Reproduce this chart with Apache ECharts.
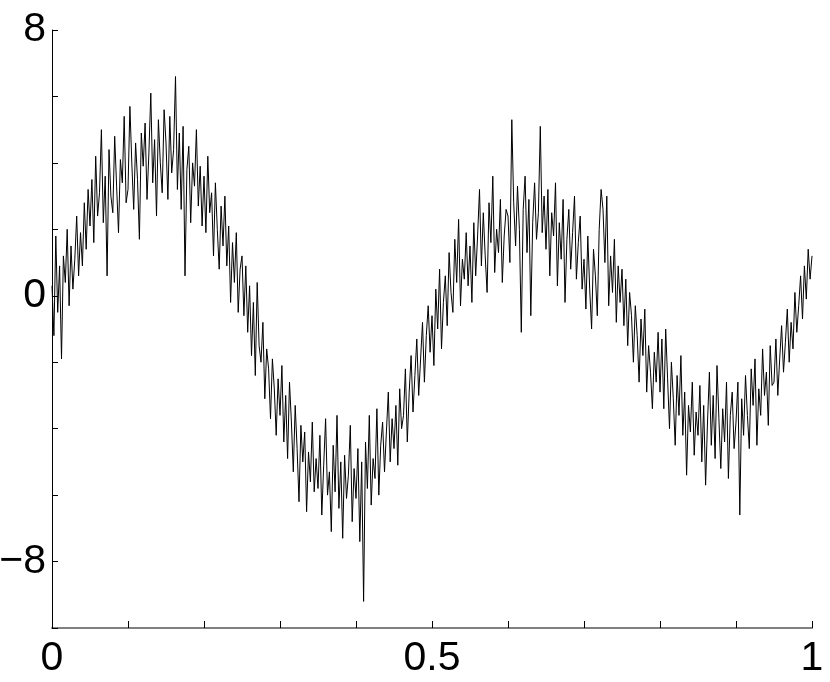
<!DOCTYPE html>
<html>
<head>
<meta charset="utf-8">
<script src="https://cdn.jsdelivr.net/npm/echarts@6/dist/echarts.min.js"></script>
<style>
  html, body { margin: 0; padding: 0; background: #fff; }
  #chart { width: 830px; height: 682px; }
</style>
</head>
<body>
<div id="chart"></div>
<script>
// valeurs, une ligne = 0.05 en x (pas de 0.0025)
const signal = [
  0.3, -1.2, 1.8, -0.5, 0.9, -1.9, 1.2, 0.4, 2.0, -0.3, 1.5, 0.2, 1.1, 2.4, 0.6, 1.9, 0.9, 2.8, 1.4, 3.2,
  2.1, 3.5, 1.6, 4.2, 2.4, 3.1, 5.0, 2.2, 3.6, 0.6, 4.4, 3.0, 2.5, 4.8, 3.3, 1.9, 4.1, 3.4, 5.4, 2.8,
  3.2, 5.7, 4.0, 2.6, 4.6, 3.5, 1.7, 4.9, 3.9, 5.2, 2.9, 4.3, 6.1, 3.4, 4.7, 2.4, 5.3, 4.0, 3.1, 5.6,
  4.6, 2.9, 5.4, 3.7, 4.4, 6.6, 3.2, 4.9, 2.6, 5.1, 0.6, 3.8, 4.5, 2.2, 4.0, 3.3, 5.0, 2.7, 3.9, 2.1,
  3.6, 1.9, 4.2, 2.5, 3.1, 1.2, 3.4, 2.0, 0.8, 2.7, 1.5, 3.0, 0.9, 2.1, -0.2, 1.6, 0.4, 1.9, -0.5, 0.8,
  1.2, -0.6, 0.9, -1.1, 0.3, -1.8, -0.2, -2.4, 0.4, -1.5, -2.0, -0.8, -3.1, -1.6, -2.2, -3.7, -1.9, -2.8, -4.2, -2.5,
  -3.6, -2.1, -4.4, -3.0, -4.9, -2.6, -3.8, -5.3, -3.3, -4.6, -6.2, -3.9, -5.0, -4.1, -6.5, -4.7, -5.6, -3.8, -5.9, -4.9,
  -5.8, -4.2, -6.6, -5.1, -3.7, -6.0, -5.3, -7.1, -4.5, -5.9, -3.6, -6.4, -5.0, -7.3, -4.8, -6.1, -5.4, -3.9, -6.8, -5.2,
  -6.1, -4.6, -7.4, -5.0, -9.2, -4.4, -5.8, -3.6, -6.3, -4.9, -5.5, -3.4, -6.0, -4.5, -3.8, -5.3, -4.1, -2.9, -5.0, -3.7,
  -4.6, -3.3, -5.1, -2.8, -4.0, -3.6, -2.2, -4.4, -2.9, -1.8, -3.5, -2.4, -1.3, -3.0, -1.9, -0.8, -2.6, -1.2, -0.3, -1.7,
  -0.6, -2.1, 0.2, -1.0, 0.8, -1.6, -0.2, 0.6, -0.9, 1.3, 0.1, -0.5, 1.7, 0.4, 2.3, -0.3, 1.1, 0.5, 1.9, 0.3,
  1.5, -0.2, 2.2, 0.6, 1.8, 3.2, 0.9, 2.5, 1.2, 0.1, 2.8, 1.6, 3.6, 0.7, 2.0, 1.3, 2.9, 0.4, 1.8, 2.6,
  2.4, 1.0, 5.3, 2.8, 1.5, 3.3, 2.0, -1.1, 2.6, 3.6, 1.3, 2.9, -0.6, 2.2, 3.4, 1.7, 2.5, 5.1, 1.9, 3.0,
  1.4, 3.2, 0.6, 2.5, 1.8, 3.4, 0.3, 2.2, 1.1, 2.9, -0.2, 1.7, 2.6, 0.8, 1.9, 3.0, 0.5, 1.6, 2.4, 0.2,
  1.1, -0.4, 1.8, 0.2, -1.0, 1.4, 0.6, -0.6, 2.0, 3.2, 2.6, 1.0, 3.0, -0.3, 1.2, 0.1, 1.7, -0.8, 0.9, -0.2,
  0.8, -0.9, 0.5, -1.5, 0.1, -0.6, -2.0, -0.3, -1.2, -2.6, -0.7, -1.8, -0.4, -2.9, -1.5, -2.3, -3.4, -1.7, -2.6, -1.1,
  -2.9, -1.3, -3.4, -1.0, -2.5, -4.0, -2.0, -3.1, -4.5, -2.4, -3.6, -1.8, -4.2, -2.9, -5.4, -3.3, -4.1, -2.6, -4.8, -3.5,
  -4.2, -2.7, -5.0, -3.3, -5.7, -3.8, -2.3, -4.5, -3.0, -4.9, -2.1, -3.7, -5.2, -3.4, -4.4, -2.6, -5.5, -3.6, -2.9, -4.6,
  -3.8, -2.6, -6.6, -3.1, -4.2, -2.4, -3.6, -4.6, -2.2, -3.3, -1.9, -4.5, -2.8, -3.6, -1.6, -3.0, -2.3, -3.9, -1.5, -2.7,
  -2.6, -1.3, -3.0, -1.9, -0.9, -2.3, -1.4, -0.4, -2.0, -0.8, -1.6, 0.1, -1.1, -0.3, 0.6, -0.7, 0.9, -0.1, 1.4, 0.5,
  1.2
];
const step = 0.0025;
const xLabels = { "0": "0", "0.5": "0.5", "1": "1" };
const yLabels = { "8": "8", "0": "0", "-8": "\u22128" };

const points = signal.map((v, i) => [+(i * step).toFixed(4), v]);

const chart = echarts.init(document.getElementById("chart"));
const font = "'Liberation Sans', Arial, Helvetica, sans-serif";

chart.setOption({
  animation: false,
  backgroundColor: "#fff",
  grid: { left: 52, right: 18, top: 30, bottom: 54, outerBoundsMode: "none", containLabel: false },
  xAxis: {
    type: "value",
    min: 0,
    max: 1,
    interval: 0.1,
    axisLine: { onZero: false, lineStyle: { color: "#808080", width: 2 } },
    axisTick: { inside: true, length: 7, lineStyle: { color: "#000", width: 1 } },
    splitLine: { show: false },
    axisLabel: {
      margin: 10,
      fontSize: 41,
      color: "#000",
      fontFamily: font,
      formatter: (v) => xLabels[String(+v.toFixed(2))] || ""
    }
  },
  yAxis: {
    type: "value",
    min: -10,
    max: 8,
    interval: 2,
    axisLine: { lineStyle: { color: "#000", width: 1 } },
    axisTick: { inside: true, length: 6, lineStyle: { color: "#000", width: 1 } },
    splitLine: { show: false },
    axisLabel: {
      margin: 6,
      fontSize: 41,
      color: "#000",
      fontFamily: font,
      formatter: (v) => yLabels[String(v)] || ""
    }
  },
  series: [
    {
      type: "line",
      data: points,
      symbol: "none",
      lineStyle: { color: "#000", width: 1 }
    }
  ]
});
</script>
</body>
</html>
